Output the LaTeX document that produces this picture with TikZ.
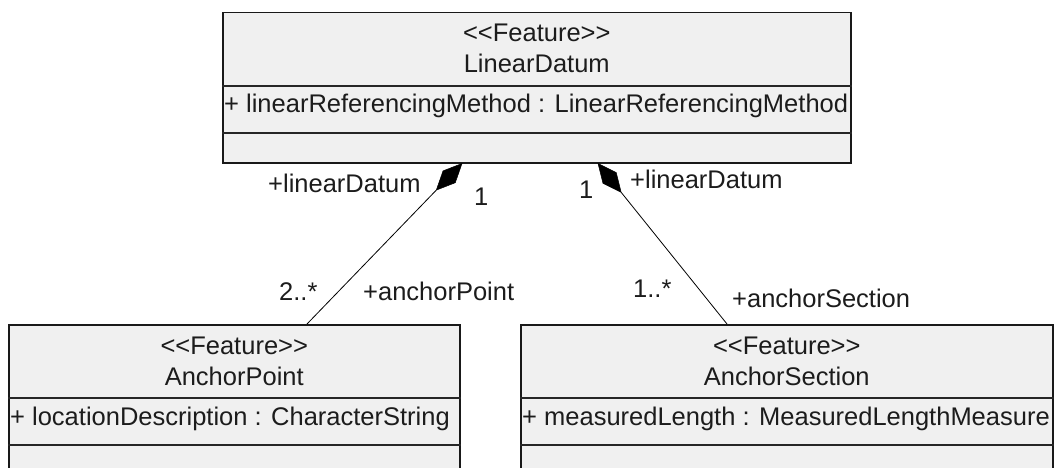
\documentclass[tikz,border=0pt]{standalone}
\usepackage{fontspec}
\newfontfamily\umlfont{Liberation Sans}
\usetikzlibrary{calc}
\definecolor{boxfill}{RGB}{240,240,240}
\definecolor{txt}{RGB}{28,28,28}
\begin{document}
\begin{tikzpicture}[x=1pt,y=-1pt,
  classbox/.style={draw=black!90, line width=1.5pt, fill=boxfill, rectangle, anchor=north west, inner sep=0pt, minimum height=150pt},
  lbl/.style={font=\umlfont\fontsize{25.5}{30}\selectfont, text=txt, inner sep=0pt, anchor=base},
  lblw/.style={lbl, anchor=base west},
  divider/.style={draw=black!85, line width=1.1pt},
  assoc/.style={draw=black, line width=0.8pt},
  comp/.style={fill=black, draw=black, line width=0.5pt, line join=miter}]
\useasboundingbox (0,0) rectangle (1054,468);
\clip (0,0) rectangle (1054,468);

% class boxes
\node[classbox, minimum width=628pt] (ld) at (222,12) {};
\node[classbox, minimum width=451pt] (ap) at (8,324) {};
\node[classbox, minimum width=532pt] (as) at (520,324) {};

% LinearDatum
\node[lbl] (ld-s) at ([yshift=-29.5pt]ld.north) {<<Feature>>};
\node[lbl] (ld-n) at ([yshift=-60.5pt]ld.north) {LinearDatum};
\draw[divider] ([yshift=-74pt]ld.north west) -- ([yshift=-74pt]ld.north east);
\node[lblw] (ld-a) at ([xshift=2pt,yshift=-101pt]ld.north west) {+ linearReferencingMethod : LinearReferencingMethod};
\draw[divider] ([yshift=-121pt]ld.north west) -- ([yshift=-121pt]ld.north east);

% AnchorPoint
\node[lbl] (ap-s) at ([yshift=-30.5pt]ap.north) {<<Feature>>};
\node[lbl] (ap-n) at ([yshift=-61.5pt]ap.north) {AnchorPoint};
\draw[divider] ([yshift=-74pt]ap.north west) -- ([yshift=-74pt]ap.north east);
\node[lblw] (ap-a) at ([xshift=2pt,yshift=-101pt]ap.north west) {+ locationDescription : CharacterString};
\draw[divider] ([yshift=-121pt]ap.north west) -- ([yshift=-121pt]ap.north east);

% AnchorSection
\node[lbl] (as-s) at ([yshift=-30.5pt]as.north) {<<Feature>>};
\node[lbl] (as-n) at ([yshift=-61.5pt]as.north) {AnchorSection};
\draw[divider] ([yshift=-74pt]as.north west) -- ([yshift=-74pt]as.north east);
\node[lblw] (as-a) at ([xshift=2pt,yshift=-101pt]as.north west) {+ measuredLength : MeasuredLengthMeasure};
\draw[divider] ([yshift=-121pt]as.north west) -- ([yshift=-121pt]as.north east);

% composition: LinearDatum -- AnchorPoint
\coordinate (t1) at ([xshift=240pt]ld.south west);
\coordinate (e1) at ([xshift=299pt]ap.north west);
\coordinate (m1) at ($(t1)!18.5pt!(e1)$);
\coordinate (f1) at ($(t1)!37pt!(e1)$);
\draw[assoc] (f1) -- (e1);
\filldraw[comp] (t1) -- ($(m1)!8.5pt!90:(e1)$) -- (f1) -- ($(m1)!8.5pt!-90:(e1)$) -- cycle;

% composition: LinearDatum -- AnchorSection
\coordinate (t2) at ([xshift=376pt]ld.south west);
\coordinate (e2) at ([xshift=207pt]as.north west);
\coordinate (m2) at ($(t2)!18.5pt!(e2)$);
\coordinate (f2) at ($(t2)!37pt!(e2)$);
\draw[assoc] (f2) -- (e2);
\filldraw[comp] (t2) -- ($(m2)!8.5pt!90:(e2)$) -- (f2) -- ($(m2)!8.5pt!-90:(e2)$) -- cycle;

% role and multiplicity labels
\node[lblw] (r1) at (268,192) {+linearDatum};
\node[lblw] (m1l) at (474,205) {1};
\node[lblw] (m1u) at (279,300) {2..*};
\node[lblw] (r2) at (363,300) {+anchorPoint};
\node[lblw] (m2l) at (579,198) {1};
\node[lblw] (r3) at (630,188) {+linearDatum};
\node[lblw] (m2u) at (633,297) {1..*};
\node[lblw] (r4) at (732,307) {+anchorSection};
\end{tikzpicture}
\end{document}
